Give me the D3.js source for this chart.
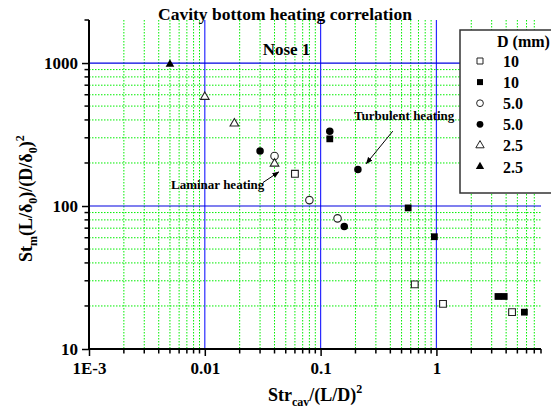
<!DOCTYPE html>
<html>
<head>
<meta charset="utf-8">
<script src="https://cdn.jsdelivr.net/npm/d3@7"></script>
<style>
  html, body { margin: 0; padding: 0; background: #fff; }
  svg { display: block; font-family: "Liberation Serif", "Times New Roman", serif; font-weight: bold; }
</style>
</head>
<body>
<svg id="chart" width="551" height="418"></svg>
<script>
// Cavity bottom heating: normalised Stanton number vs. cavity Strouhal parameter

// Series: D = 10 mm (open / filled squares)
const sqOpenX   = [0.06, 0.65, 1.14, 4.5];
const sqOpenY   = [168, 28.3, 20.7, 18.1];
const sqFillX   = [0.12, 0.57, 0.96, 3.4, 3.85, 5.75];
const sqFillY   = [295, 97, 61, 23.3, 23.3, 18.1];
// Series: D = 5.0 mm (open / filled circles)
const ciOpenX   = [0.04, 0.08, 0.14];
const ciOpenY   = [224, 110, 82];
const ciFillX   = [0.03, 0.12, 0.21, 0.16];
const ciFillY   = [243, 333, 180, 72];
// Series: D = 2.5 mm (open / filled triangles)
const trOpenX   = [0.01, 0.018, 0.04];
const trOpenY   = [580, 378, 198];
const trFillX   = [0.005];
const trFillY   = [980];

const legendLabels = ["10", "10", "5.0", "5.0", "2.5", "2.5"];
const xTickValues = [0.001, 0.01, 0.1, 1];
const xTickLabels = ["1E-3", "0.01", "0.1", "1"];
const yTickValues = [10, 100, 1000];
const yTickLabels = ["10", "100", "1000"];

const svg = d3.select("#chart");
const margin = { left: 89, right: 10, top: 20, bottom: 69 };
const W = 551, H = 418;

const x = d3.scaleLog().domain([0.001, 8]).range([margin.left, 541]);
const y = d3.scaleLog().domain([10, 2000]).range([349, margin.top]);

// minor grid positions: 2..9 of each decade
function minors(lo, hi) {
  const out = [];
  for (let e = Math.floor(Math.log10(lo)); e <= Math.ceil(Math.log10(hi)); e++) {
    for (let k = 2; k <= 9; k++) {
      const v = k * Math.pow(10, e);
      if (v > lo && v <= hi) out.push(v);
    }
  }
  return out;
}
const xMinor = minors(0.001, 8);
const yMinor = minors(10, 2000);

const grid = svg.append("g");
grid.selectAll("line.gx").data(xMinor.filter(v => v < 8)).join("line")
  .attr("x1", d => x(d)).attr("x2", d => x(d))
  .attr("y1", y(2000)).attr("y2", y(10))
  .attr("stroke", "#00ee00").attr("stroke-width", 1).attr("stroke-dasharray", "1.5,1.5");
grid.selectAll("line.gy").data(yMinor.filter(v => v < 2000)).join("line")
  .attr("x1", x(0.001)).attr("x2", x(8))
  .attr("y1", d => y(d)).attr("y2", d => y(d))
  .attr("stroke", "#00ee00").attr("stroke-width", 1).attr("stroke-dasharray", "1.5,1.5");

// major grid lines
grid.selectAll("line.mx").data([0.01, 0.1, 1]).join("line")
  .attr("x1", d => x(d)).attr("x2", d => x(d))
  .attr("y1", y(2000)).attr("y2", y(10))
  .attr("stroke", "#2a2aff").attr("stroke-width", 1.2);
grid.selectAll("line.my").data([100, 1000]).join("line")
  .attr("x1", x(0.001)).attr("x2", x(8))
  .attr("y1", d => y(d)).attr("y2", d => y(d))
  .attr("stroke", "#0000e0").attr("stroke-width", 1.2);

// axes
const xAxis = d3.axisBottom(x).tickValues(xTickValues)
  .tickFormat((d, i) => xTickLabels[i]).tickSize(7).tickPadding(6);
const gx = svg.append("g").attr("transform", `translate(0,${y(10)})`).call(xAxis);
gx.selectAll(".tick.minor").data(xMinor).enter();
gx.selectAll("line.minor").data(xMinor).join("line")
  .attr("class", "minor")
  .attr("x1", d => x(d)).attr("x2", d => x(d)).attr("y1", 0).attr("y2", 4.5)
  .attr("stroke", "#000").attr("stroke-width", 1.5);

const yAxis = d3.axisLeft(y).tickValues(yTickValues)
  .tickFormat((d, i) => yTickLabels[i]).tickSize(7).tickPadding(4);
const gy = svg.append("g").attr("transform", `translate(${x(0.001)},0)`).call(yAxis);
gy.selectAll("line.minor").data(yMinor).join("line")
  .attr("class", "minor")
  .attr("x1", 0).attr("x2", -4.5).attr("y1", d => y(d)).attr("y2", d => y(d))
  .attr("stroke", "#000").attr("stroke-width", 1.5);

[gx, gy].forEach(g => {
  g.select(".domain").attr("stroke", "#000").attr("stroke-width", 2);
  g.selectAll(".tick line").attr("stroke", "#000").attr("stroke-width", 1.5);
  g.selectAll(".tick text").attr("fill", "#000")
    .style("font-family", "Liberation Serif, serif").style("font-weight", "bold").style("font-size", "17px");
});
gx.select(".domain").attr("d", `M${x(0.001)},0H${x(8)}`);
gy.select(".domain").attr("d", `M0,${y(10)}V${y(2000)}`);

// markers
const shapes = {
  square: d3.symbol().type(d3.symbolSquare).size(46),
  circle: d3.symbol().type(d3.symbolCircle).size(44),
  triangle: d3.symbol().type(d3.symbolTriangle).size(32)
};
const series = [
  { xs: sqOpenX, ys: sqOpenY, shape: "square", filled: false },
  { xs: sqFillX, ys: sqFillY, shape: "square", filled: true },
  { xs: ciOpenX, ys: ciOpenY, shape: "circle", filled: false },
  { xs: ciFillX, ys: ciFillY, shape: "circle", filled: true },
  { xs: trOpenX, ys: trOpenY, shape: "triangle", filled: false },
  { xs: trFillX, ys: trFillY, shape: "triangle", filled: true }
];
const pts = svg.append("g");
series.forEach(s => {
  pts.selectAll(null).data(s.xs.map((v, i) => [v, s.ys[i]])).join("path")
    .attr("d", shapes[s.shape])
    .attr("transform", d => `translate(${x(d[0])},${y(d[1])})`)
    .attr("fill", s.filled ? "#000" : "#fff")
    .attr("stroke", s.filled ? "none" : "#222")
    .attr("stroke-width", 1.1);
});

// annotations
svg.append("defs").append("marker")
  .attr("id", "ah").attr("viewBox", "0 0 10 10").attr("refX", 9).attr("refY", 5)
  .attr("markerWidth", 7).attr("markerHeight", 7).attr("markerUnits", "userSpaceOnUse")
  .attr("orient", "auto")
  .append("path").attr("d", "M0,1L10,5L0,9Z").attr("fill", "#000");

const notes = [
  { text: "Turbulent heating", tx: 354, ty: 120, from: [0.42, 334], to: [0.248, 198] },
  { text: "Laminar heating", tx: 171, ty: 189, from: [0.0318, 146], to: [0.0435, 173] }
];
notes.forEach(n => {
  svg.append("line")
    .attr("x1", x(n.from[0])).attr("y1", y(n.from[1]))
    .attr("x2", x(n.to[0])).attr("y2", y(n.to[1]))
    .attr("stroke", "#000").attr("stroke-width", 1).attr("marker-end", "url(#ah)");
  svg.append("text").attr("x", n.tx).attr("y", n.ty)
    .attr("font-size", 13).attr("fill", "#000").text(n.text);
});

// titles
svg.append("text").attr("x", 285).attr("y", 20).attr("text-anchor", "middle")
  .attr("font-size", 17.5).text("Cavity bottom heating correlation");
svg.append("text").attr("x", 286.5).attr("y", 55).attr("text-anchor", "middle")
  .attr("font-size", 17).text("Nose 1");

// x axis title
const xt = svg.append("text").attr("x", 268).attr("y", 401).attr("font-size", 18);
xt.append("tspan").text("Str");
xt.append("tspan").attr("font-size", 12).attr("dy", 5).text("cav");
xt.append("tspan").attr("dy", -5).text("/(L/D)");
xt.append("tspan").attr("font-size", 12).attr("dy", -8).text("2");

// y axis title
const yt = svg.append("text").attr("transform", "translate(32,262) rotate(-90)").attr("font-size", 18);
yt.append("tspan").text("St");
yt.append("tspan").attr("font-size", 12).attr("dy", 5).text("m");
yt.append("tspan").attr("dy", -5).text("(L/δ");
yt.append("tspan").attr("font-size", 12).attr("dy", 5).text("0");
yt.append("tspan").attr("dy", -5).text(")/(D/δ");
yt.append("tspan").attr("font-size", 12).attr("dy", 5).text("0");
yt.append("tspan").attr("dy", -5).text(")");
yt.append("tspan").attr("font-size", 12).attr("dy", -8).text("2");

// legend
const lg = svg.append("g");
lg.append("rect").attr("x", 460).attr("y", 30).attr("width", 100).attr("height", 163)
  .attr("fill", "#fff").attr("stroke", "#333").attr("stroke-width", 1.5);
lg.append("text").attr("x", 497).attr("y", 47).attr("font-size", 16).text("D (mm)");
series.forEach((s, i) => {
  const cy = 61 + i * 21.1;
  lg.append("path")
    .attr("d", d3.symbol().type(s.shape === "square" ? d3.symbolSquare : s.shape === "circle" ? d3.symbolCircle : d3.symbolTriangle)
      .size(s.shape === "triangle" ? 30 : 36))
    .attr("transform", `translate(480,${cy})`)
    .attr("fill", s.filled ? "#000" : "#fff")
    .attr("stroke", s.filled ? "none" : "#222").attr("stroke-width", 1);
  lg.append("text").attr("x", 503).attr("y", cy + 6).attr("font-size", 16).text(legendLabels[i]);
});
</script>
</body>
</html>
